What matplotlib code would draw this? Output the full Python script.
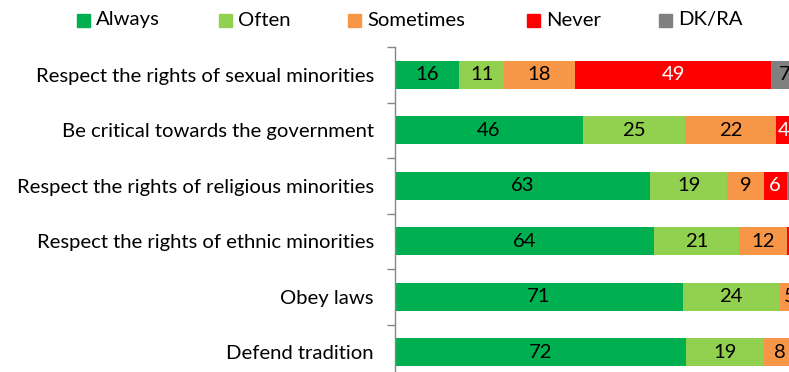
import matplotlib
matplotlib.use("Agg")
import matplotlib.pyplot as plt
from matplotlib.patches import Rectangle
import numpy as np

plt.rcParams['font.family'] = ['Lato', 'DejaVu Sans']

categories = ["Respect the rights of sexual minorities",
              "Be critical towards the government",
              "Respect the rights of religious minorities",
              "Respect the rights of ethnic minorities",
              "Obey laws",
              "Defend tradition"]
series_names = ["Always", "Often", "Sometimes", "Never", "DK/RA"]
colors = ["#00B050", "#92D050", "#F79646", "#FF0000", "#808080"]
text_colors = ["#000000", "#000000", "#000000", "#FFFFFF", "#000000"]

# bar lengths (percent)
always    = [16.0, 46.9, 63.7, 64.8, 71.9, 72.7]
often     = [11.2, 25.6, 19.4, 21.3, 24.3, 19.5]
sometimes = [17.8, 22.7, 9.1, 11.8, 5.0, 8.0]
never     = [49.0, 4.0, 5.7, 0.8, 0.0, 0.0]
dkra      = [7.0, 1.3, 2.1, 1.3, 0.0, 0.0]

# printed data labels
always_lbl    = ["16", "46", "63", "64", "71", "72"]
often_lbl     = ["11", "25", "19", "21", "24", "19"]
sometimes_lbl = ["18", "22", "9", "12", "5", "8"]
never_lbl     = ["49", "4", "6", "", "", ""]
dkra_lbl      = ["7", "", "", "", "", ""]

series = [always, often, sometimes, never, dkra]
labels = [always_lbl, often_lbl, sometimes_lbl, never_lbl, dkra_lbl]

FS = 14.6
W, H = 789, 372
fig = plt.figure(figsize=(W / 100, H / 100), dpi=100)

ax_left, ax_right = 395.3, 795.0
ax_top, ax_bot = 47.0, 380.0
ax = fig.add_axes([ax_left / W, (H - ax_bot) / H,
                   (ax_right - ax_left) / W, (ax_bot - ax_top) / H])

y = np.arange(len(categories))
left = np.zeros(len(categories))
for vals, col, tcol, lbls in zip(series, colors, text_colors, labels):
    vals = np.array(vals)
    ax.barh(y, vals, left=left, height=0.51, color=col, edgecolor='none')
    for yi, (l, v, t) in enumerate(zip(left, vals, lbls)):
        if t:
            ax.text(l + v / 2, yi, t, ha='center', va='center',
                    fontsize=FS, color=tcol)
    left = left + vals

ax.set_xlim(0, 100)
ax.set_ylim(len(categories) - 0.5, -0.5)
ax.set_yticks(y)
ax.set_yticklabels(categories, fontsize=FS)
ax.tick_params(axis='y', which='major', length=0, pad=15.5)
ax.set_yticks(np.arange(len(categories) + 1) - 0.5, minor=True)
ax.tick_params(axis='y', which='minor', length=6, color='#868686', width=1)
ax.set_xticks([])
for s in ['top', 'right', 'bottom']:
    ax.spines[s].set_visible(False)
ax.spines['left'].set_color('#868686')
ax.spines['left'].set_linewidth(1)

# legend
leg_x = [77.3, 219.0, 348.0, 526.7, 659.0]
leg_y = 20.0
sq = 13.0
for xx, col, name in zip(leg_x, colors, series_names):
    fig.patches.append(Rectangle((xx / W, (H - leg_y - sq / 2) / H), sq / W, sq / H,
                                 transform=fig.transFigure, color=col))
    fig.text((xx + sq + 6) / W, (H - leg_y) / H, name, ha='left', va='center',
             fontsize=FS)

fig.savefig("out.png", dpi=100)
